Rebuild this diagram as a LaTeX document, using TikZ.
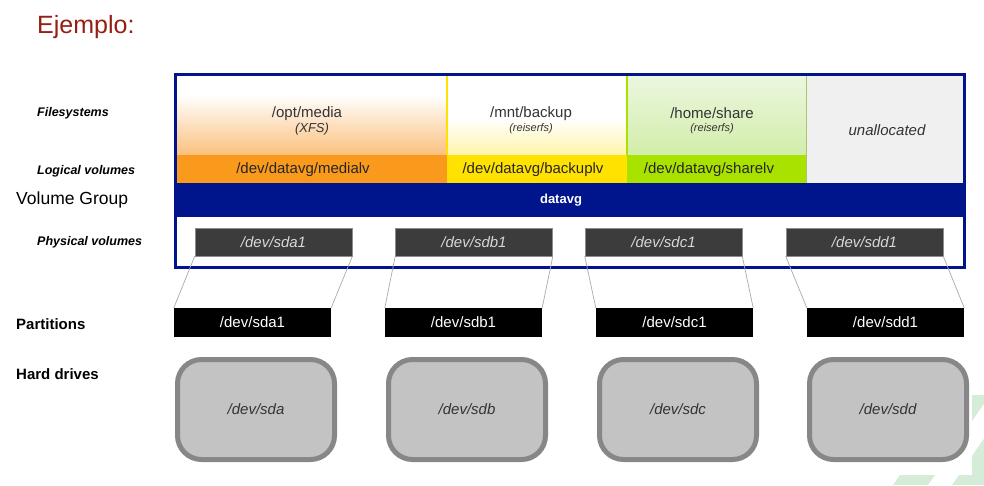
\documentclass[tikz,border=0pt]{standalone}
\usepackage{fontspec}
\setmainfont{Liberation Sans}
\definecolor{navy}{RGB}{0,20,140}
\definecolor{titlered}{RGB}{150,30,20}
\definecolor{lvorange}{RGB}{249,154,28}
\definecolor{fsorange}{RGB}{250,192,125}
\definecolor{lvyellow}{RGB}{255,226,0}
\definecolor{fsyellow}{RGB}{255,244,170}
\definecolor{lvgreen}{RGB}{170,226,0}
\definecolor{fsgreentop}{RGB}{236,247,224}
\definecolor{fsgreenbot}{RGB}{210,237,170}
\definecolor{unalloc}{RGB}{240,240,240}
\definecolor{pvgray}{RGB}{60,60,60}
\definecolor{pvtext}{RGB}{215,215,215}
\definecolor{hdfill}{RGB}{195,195,195}
\definecolor{hdedge}{RGB}{135,135,135}
\definecolor{linkgray}{RGB}{170,170,170}
\definecolor{stripe}{RGB}{212,236,216}
\tikzset{
  rowlabel/.style={anchor=west, font=\bfseries\itshape\fontsize{12.5}{14}\selectfont, inner sep=0},
  biglabel/.style={anchor=west, font=\bfseries\fontsize{15}{17}\selectfont, inner sep=0},
  fstext/.style={font=\fontsize{15}{17}\selectfont, text=black!80, inner sep=0},
  fssub/.style={font=\itshape\fontsize{11}{13}\selectfont, text=black!80, inner sep=0},
  lvtext/.style={font=\fontsize{15}{17}\selectfont, text=black!85, inner sep=0},
  pvbox/.style={fill=pvgray, draw=black!45, line width=0.6pt, minimum width=157pt, minimum height=28pt, inner sep=0, text=pvtext, font=\itshape\fontsize{15}{17}\selectfont},
  partbox/.style={fill=black, minimum width=157pt, minimum height=29pt, inner sep=0, text=white, font=\fontsize{15}{17}\selectfont},
  hdbox/.style={fill=hdfill, draw=hdedge, line width=5pt, rounded corners=24pt, minimum width=157pt, minimum height=100pt, inner sep=0, text=black!80, font=\itshape\fontsize{15}{17}\selectfont},
  link/.style={draw=linkgray, line width=0.7pt}
}
\begin{document}
\begin{tikzpicture}[x=1pt,y=-1pt]
\useasboundingbox (0,0) rectangle (984,485);
% decorative stripes of the slide
\begin{scope}
\clip (0,0) rectangle (984,485);
\fill[stripe] (893,485) -- (928,485) -- (990,395) -- (955,395) -- cycle;
\fill[stripe] (952,485) -- (987,485) -- (1049,395) -- (1014,395) -- cycle;
\end{scope}
\fill[white] (0,0) rectangle (972,475);

% title
\node[anchor=base west, inner sep=0, text=titlered, font=\fontsize{25}{28}\selectfont] (title) at (37,33) {Ejemplo:};

% filesystem backgrounds
\fill[white] (176,75) rectangle (627,155);
\shade[top color=white, middle color=fsorange!40, bottom color=fsorange] (176,95) rectangle (447,155);
\shade[top color=white, bottom color=fsyellow] (447,118) rectangle (627,155);
\shade[top color=fsgreentop, bottom color=fsgreenbot] (627,75) rectangle (806,155);
\fill[unalloc] (806,75) rectangle (963,183);
\draw[lvyellow, line width=1.2pt] (447,75) -- (447,155);
\draw[lvgreen, line width=1.2pt] (627,75) -- (627,155);
\draw[navy!60, line width=1pt] (806,75) -- (963,75);
\draw[lvgreen!70!black!60, line width=0.6pt] (806,75) -- (806,183);

% logical volume bars
\fill[lvorange] (176,155) rectangle (447,183);
\fill[lvyellow] (447,155) rectangle (627,183);
\fill[lvgreen] (627,155) rectangle (806,183);

% volume group band
\fill[navy] (176,183) rectangle (963,217);
\node[text=white, font=\bfseries\fontsize{13}{15}\selectfont, inner sep=0] (vg) at (561,200) {datavg};

% filesystem texts
\node[fstext] (fs1) at (307,114) {/opt/media};
\node[fssub, font=\itshape\fontsize{13}{15}\selectfont] (fs1t) at (312,129) {(XFS)};
\node[fstext] (fs2) at (531,114) {/mnt/backup};
\node[fssub] (fs2t) at (531,129) {(reiserfs)};
\node[fstext] (fs3) at (712,113) {/home/share};
\node[fssub] (fs3t) at (712,129) {(reiserfs)};
\node[fstext, font=\itshape\fontsize{15}{17}\selectfont] (un) at (887,130) {unallocated};

% LV texts
\node[lvtext] (lv1) at (303,170) {/dev/datavg/medialv};
\node[lvtext] (lv2) at (533,170) {/dev/datavg/backuplv};
\node[lvtext] (lv3) at (709,170) {/dev/datavg/sharelv};

% physical volumes
\node[pvbox] (pv1) at (273.5,242) {/dev/sda1};
\node[pvbox] (pv2) at (474,242) {/dev/sdb1};
\node[pvbox] (pv3) at (663.5,242) {/dev/sdc1};
\node[pvbox] (pv4) at (864.5,242) {/dev/sdd1};

% outer border
\draw[navy, line width=3pt] (175,74) rectangle (964,267);

% partitions
\node[partbox] (pa1) at (252.5,322.5) {/dev/sda1};
\node[partbox] (pa2) at (463.5,322.5) {/dev/sdb1};
\node[partbox] (pa3) at (674.5,322.5) {/dev/sdc1};
\node[partbox] (pa4) at (885.5,322.5) {/dev/sdd1};

% links
\foreach \i in {1,2,3,4}{
  \draw[link] (pv\i.south west) -- (pa\i.north west);
  \draw[link] (pv\i.south east) -- (pa\i.north east);
}

% hard drives
\node[hdbox] (hd1) at (256,409.5) {/dev/sda};
\node[hdbox] (hd2) at (467,409.5) {/dev/sdb};
\node[hdbox] (hd3) at (678,409.5) {/dev/sdc};
\node[hdbox] (hd4) at (888,409.5) {/dev/sdd};

% row labels
\node[rowlabel] (lfs) at (37,113) {Filesystems};
\node[rowlabel] (llv) at (37,171) {Logical volumes};
\node[anchor=west, inner sep=0, font=\fontsize{17.5}{20}\selectfont] (lvg) at (16,200) {Volume Group};
\node[rowlabel] (lpv) at (37,242) {Physical volumes};
\node[biglabel] (lpa) at (16,324) {Partitions};
\node[biglabel] (lhd) at (16,374) {Hard drives};
\end{tikzpicture}
\end{document}
